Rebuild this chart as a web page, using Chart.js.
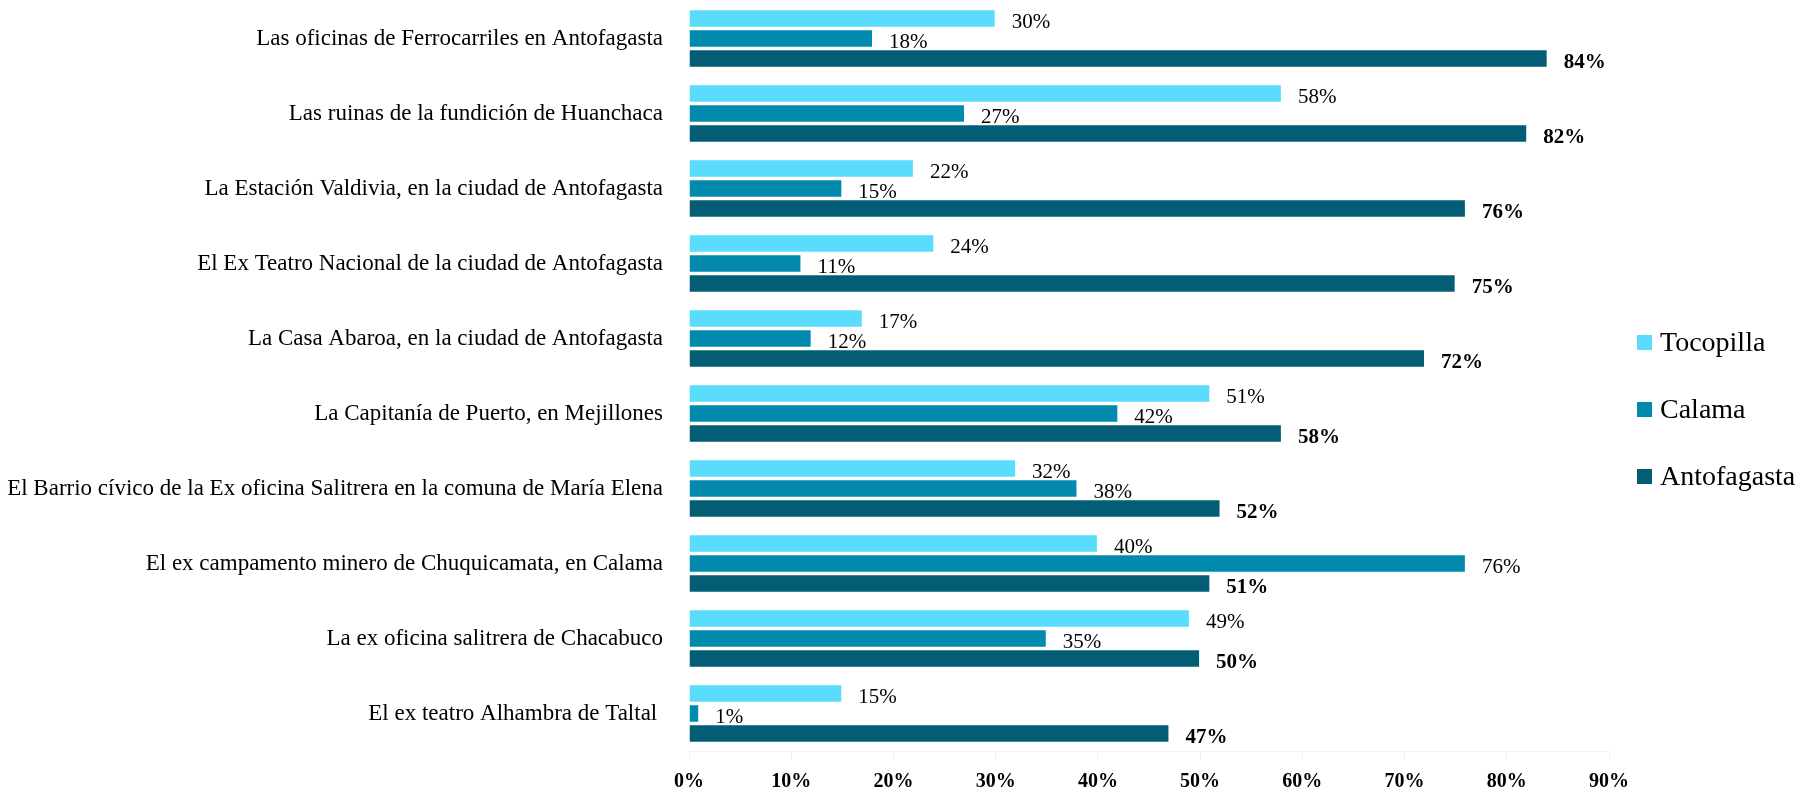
<!DOCTYPE html>
<html>
<head>
<meta charset="utf-8">
<script src="https://cdn.jsdelivr.net/npm/chart.js@4"></script>
<style>
  body { margin: 0; background: #fff; }
  #wrap { width: 1806px; height: 791px; position: relative; }
</style>
</head>
<body>
<div id="wrap"><canvas id="heritageChart"></canvas></div>
<script>
const categories = [
    'Las oficinas de Ferrocarriles en Antofagasta',
    'Las ruinas de la fundición de Huanchaca',
    'La Estación Valdivia, en la ciudad de Antofagasta',
    'El Ex Teatro Nacional de la ciudad de Antofagasta',
    'La Casa Abaroa, en la ciudad de Antofagasta',
    'La Capitanía de Puerto, en Mejillones',
    'El Barrio cívico de la Ex oficina Salitrera en la comuna de María Elena',
    'El ex campamento minero de Chuquicamata, en Calama',
    'La ex oficina salitrera de Chacabuco',
    'El ex teatro Alhambra de Taltal '
];
const tocopilla = [30, 58, 22, 24, 17, 51, 32, 40, 49, 15];
const calama = [18, 27, 15, 11, 12, 42, 38, 76, 35, 1];
const antofagasta = [84, 82, 76, 75, 72, 58, 52, 51, 50, 47];
const xTicks = [0, 10, 20, 30, 40, 50, 60, 70, 80, 90];

const serif = "'Liberation Serif', 'DejaVu Serif', serif";

// % value right after each bar
const valueLabels = {
    id: 'valueLabels',
    afterDatasetsDraw(chart) {
        const c = chart.ctx;
        c.save();
        c.fillStyle = '#000';
        c.textBaseline = 'alphabetic';
        c.textAlign = 'left';
        chart.data.datasets.forEach((ds, i) => {
            const meta = chart.getDatasetMeta(i);
            c.font = (i === 2 ? 'bold ' : '') + '21px ' + serif;
            meta.data.forEach((bar, j) => {
                c.fillText(ds.data[j] + '%', bar.x + 16, bar.y + 9);
            });
        });
        c.restore();
    }
};

// legend on the right, stacked like the original
const sideLegend = {
    id: 'sideLegend',
    afterDraw(chart) {
        const c = chart.ctx;
        const x = chart.chartArea.right + 28;
        c.save();
        c.font = '28px ' + serif;
        c.textBaseline = 'alphabetic';
        c.textAlign = 'left';
        chart.data.datasets.forEach((ds, i) => {
            const y = 343 + i * 67;
            c.fillStyle = ds.backgroundColor;
            c.fillRect(x, y - 8, 15, 15);
            c.fillStyle = '#000';
            c.fillText(ds.label, x + 23, y + 8);
        });
        c.restore();
    }
};

const ctx = document.getElementById('heritageChart');
new Chart(ctx, {
    type: 'bar',
    data: {
        labels: categories,
        datasets: [
            { label: 'Tocopilla', data: tocopilla, backgroundColor: '#5ADDFD' },
            { label: 'Calama', data: calama, backgroundColor: '#028AAE' },
            { label: 'Antofagasta', data: antofagasta, backgroundColor: '#035E75' }
        ].map(ds => ({
            ...ds,
            borderColor: 'rgba(255,255,255,0.5)',
            borderWidth: 1,
            categoryPercentage: 0.8,
            barPercentage: 0.92
        }))
    },
    options: {
        indexAxis: 'y',
        responsive: true,
        maintainAspectRatio: false,
        animation: false,
        layout: { autoPadding: false, padding: { top: 1, right: 197, left: 0, bottom: 0 } },
        plugins: {
            tooltip: { enabled: false },
            legend: { display: false }
        },
        scales: {
            x: {
                min: 0,
                max: 90,
                afterBuildTicks: (scale) => { scale.ticks = xTicks.map(v => ({ value: v })); },
                afterFit: (scale) => { scale.height = 40; },
                grid: { drawOnChartArea: false, color: '#eeeeee', tickLength: 8 },
                border: { color: '#f0f0f0' },
                ticks: {
                    color: '#000',
                    padding: 11,
                    font: { family: serif, size: 20, weight: 'bold' },
                    callback: (v) => v + '%'
                }
            },
            y: {
                afterFit: (scale) => {
                    scale.width = 689;
                    scale.paddingTop = 0;
                    scale.paddingBottom = 0;
                },
                grid: { display: false, drawTicks: false },
                border: { display: false },
                ticks: {
                    color: '#000',
                    padding: 26,
                    font: { family: serif, size: 23 }
                }
            }
        }
    },
    plugins: [valueLabels, sideLegend]
});
</script>
</body>
</html>
